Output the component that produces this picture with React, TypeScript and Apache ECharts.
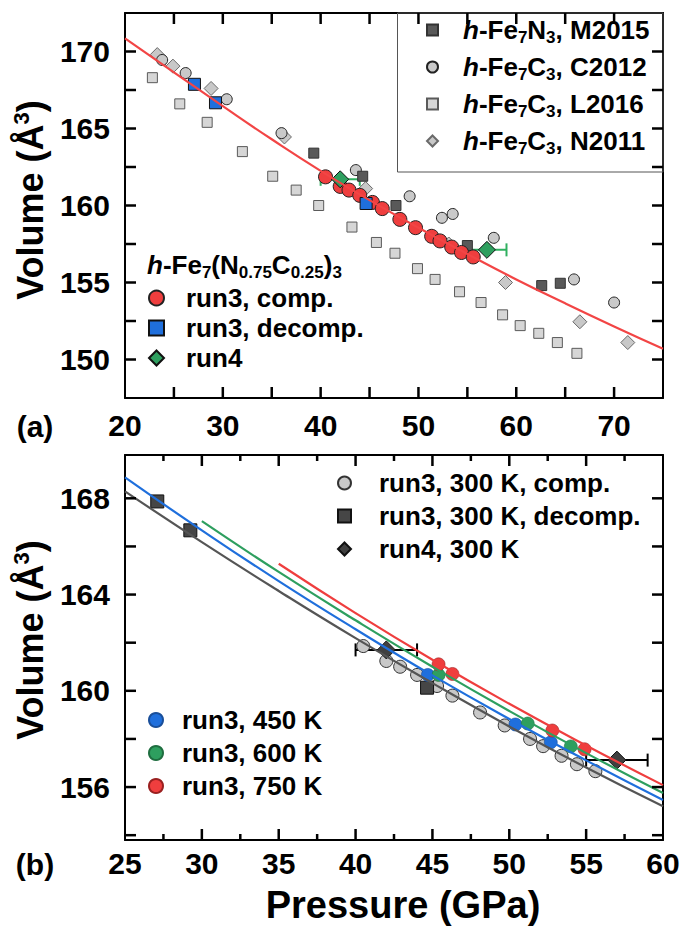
import React, { useEffect, useRef } from 'react';
import * as echarts from 'echarts';

const FONT = '"Liberation Sans", Arial, Helvetica, sans-serif';

// ---------------- Panel (a) data: [pressure (GPa), volume (Å^3)] ----------------
const aXRange = [20, 75];
const aYRange = [147.5, 172.5];
const aXTicks = [25, 30, 35, 40, 45, 50, 55, 60, 65, 70];
const aYTicks = [150, 152.5, 155, 157.5, 160, 162.5, 165, 167.5, 170];
const m2015 = [[39.3, 163.4], [44.3, 161.9], [47.7, 160.0], [55.0, 157.4], [62.6, 154.8], [64.5, 154.95]];
const c2012 = [[23.8, 169.45], [26.2, 168.6], [30.4, 166.9], [36.0, 164.7], [43.6, 162.3], [49.1, 160.6], [52.4, 159.2], [53.5, 159.45], [57.7, 157.9], [65.9, 155.2], [70.0, 153.7]];
const l2016 = [[22.8, 168.3], [25.6, 166.6], [28.4, 165.4], [32.0, 163.5], [35.1, 161.9], [37.5, 161.0], [39.8, 160.0], [43.2, 158.6], [45.7, 157.6], [47.6, 156.9], [49.9, 155.9], [51.7, 155.2], [54.2, 154.4], [56.4, 153.7], [58.6, 152.9], [60.4, 152.2], [62.3, 151.7], [64.2, 151.1], [66.2, 150.4]];
const n2011 = [[23.3, 169.8], [24.9, 169.05], [28.8, 167.6], [36.3, 164.45], [44.6, 161.1], [53.1, 157.5], [58.9, 155.0], [66.5, 152.45], [71.4, 151.1]];
const fitA = [[20, 170.85], [25, 168.65], [30, 166.45], [35, 164.3], [40, 162.25], [45, 160.35], [50, 158.55], [55, 156.85], [60, 155.2], [65, 153.65], [70, 152.15], [75, 150.7]];

// run3 / run4 at 300 K (shared by both panels)
const run3Comp = [[40.5, 161.86], [42.0, 161.24], [42.9, 161.0], [44.0, 160.66], [45.3, 160.2], [46.3, 159.8], [48.1, 159.1], [49.7, 158.56], [51.35, 158.0], [52.2, 157.7], [53.4, 157.3], [54.4, 156.95], [55.6, 156.66]];
const run3Decomp = [[27.1, 167.87], [29.25, 166.67], [44.65, 160.13]];
const run4 = [[42.0, 161.7], [57.0, 157.12]];
const run4PErr = [2.0, 2.0];

// ---------------- Panel (b) data ----------------
const bXRange = [25, 60];
const bYRange = [153.8, 169.8];
const bXTicks = [30, 35, 40, 45, 50, 55];
const bXMinorTicks = [27.5, 32.5, 37.5, 42.5, 47.5, 52.5, 57.5];
const bYTicks = [154, 156, 158, 160, 162, 164, 166, 168];
const run3T450 = [[44.7, 160.66], [50.4, 158.6], [52.7, 157.86]];
const run3T600 = [[45.4, 160.66], [51.2, 158.64], [54.0, 157.69]];
const run3T750 = [[45.4, 161.1], [46.3, 160.7], [52.8, 158.35], [54.9, 157.57]];
const fit300 = [[25, 168.29], [30, 166.18], [35, 164.15], [40, 162.19], [45, 160.32], [50, 158.52], [55, 156.81], [60, 155.2]];
const fit450 = [[25, 168.87], [30, 166.67], [35, 164.56], [40, 162.56], [45, 160.64], [50, 158.83], [55, 157.11], [60, 155.46]];
const fit600 = [[30, 167.05], [35, 164.94], [40, 162.93], [45, 161.0], [50, 159.16], [55, 157.41], [60, 155.75]];
const fit750 = [[35, 165.28], [40, 163.23], [45, 161.29], [50, 159.46], [55, 157.73], [60, 156.08]];

const RED = '#ef3e3e';
const BLUE = '#1f6fdc';
const GREEN = '#2e9f5f';
const GRAY_LINE = '#555555';

const GRID_A = { left: 125, top: 13, width: 538, height: 385 };
const GRID_B = { left: 125, top: 455, width: 538, height: 385 };

const baseText = { fontFamily: FONT, fontWeight: 'bold' as const, color: '#000' };

const legendRich = (fs: number, lh: number, sp: number) => ({
  n: { ...baseText, fontSize: fs, lineHeight: lh },
  i: { ...baseText, fontSize: fs, lineHeight: lh, fontStyle: 'italic' as const },
  s: { ...baseText, fontSize: Math.round(fs * 0.66), lineHeight: 12, verticalAlign: 'bottom' as const },
  sp: { width: sp, fontSize: fs, lineHeight: lh },
});

const legendTextA1: Record<string, string> = {
  M2015: '{sp| }{i|h}{n|-Fe}{s|7}{n|N}{s|3}{n|, M2015}',
  C2012: '{sp| }{i|h}{n|-Fe}{s|7}{n|C}{s|3}{n|, C2012}',
  L2016: '{sp| }{i|h}{n|-Fe}{s|7}{n|C}{s|3}{n|, L2016}',
  N2011: '{sp| }{i|h}{n|-Fe}{s|7}{n|C}{s|3}{n|, N2011}',
};

function axisLine() {
  return { show: true, onZero: false, lineStyle: { color: '#000', width: 2 } };
}
const noTick = { show: false };
const labelStyle = { ...baseText, fontSize: 30 };

function errRender(color: string) {
  return (params: any, api: any) => {
    const p = api.value(0);
    const v = api.value(1);
    const e = api.value(2);
    const a = api.coord([p - e, v]);
    const b = api.coord([p + e, v]);
    const cap = 6.5;
    const st = { stroke: color, lineWidth: 2 };
    return {
      type: 'group',
      children: [
        { type: 'line', shape: { x1: a[0], y1: a[1], x2: b[0], y2: b[1] }, style: st },
        { type: 'line', shape: { x1: a[0], y1: a[1] - cap, x2: a[0], y2: a[1] + cap }, style: st },
        { type: 'line', shape: { x1: b[0], y1: b[1] - cap, x2: b[0], y2: b[1] + cap }, style: st },
      ],
    };
  };
}

function scatter(name: string, data: number[][], xi: number, symbol: string, size: number, fill: string, border: string, bw = 1) {
  return {
    type: 'scatter', name, data, xAxisIndex: xi, yAxisIndex: xi, symbol, symbolSize: size,
    itemStyle: { color: fill, borderColor: border, borderWidth: bw, opacity: 1 },
    emphasis: { disabled: true },
  };
}
function fitLine(name: string, data: number[][], xi: number, color: string) {
  return {
    type: 'line', name, data, xAxisIndex: xi, yAxisIndex: xi, showSymbol: false, symbol: 'none', smooth: true,
    lineStyle: { color, width: 2.2 }, emphasis: { disabled: true },
  };
}

const volumeTitle = (y: number) => ({
  type: 'text', z: 10, x: 30, y, rotation: Math.PI / 2,
  style: {
    text: '{n|Volume (Å}{u|3}{n|)}', align: 'center', verticalAlign: 'middle',
    rich: {
      n: { ...baseText, fontSize: 36, lineHeight: 40 },
      u: { ...baseText, fontSize: 22, lineHeight: 22, verticalAlign: 'top' },
    },
  },
});

// inward tick marks on all four sides of a panel (same linear mapping as the grid's value axes)
function tickLines(grid: any, xr: number[], yr: number[], xMajor: number[], xMinor: number[], yMajor: number[]) {
  const out: any[] = [];
  const sx = (x: number) => grid.left + ((x - xr[0]) / (xr[1] - xr[0])) * grid.width;
  const sy = (y: number) => grid.top + grid.height - ((y - yr[0]) / (yr[1] - yr[0])) * grid.height;
  const left = grid.left;
  const right = grid.left + grid.width;
  const top = grid.top;
  const bottom = grid.top + grid.height;
  const len = 11;
  const minorLen = 6;
  const mk = (x1: number, y1: number, x2: number, y2: number) => ({
    type: 'line', z: 30, shape: { x1, y1, x2, y2 }, style: { stroke: '#000', lineWidth: 2.5 },
  });
  const addX = (t: number, l: number) => {
    const px = sx(t);
    out.push(mk(px, bottom, px, bottom - l));
    out.push(mk(px, top, px, top + l));
  };
  xMajor.forEach((t) => addX(t, len));
  xMinor.forEach((t) => addX(t, minorLen));
  yMajor.forEach((t) => {
    const py = sy(t);
    out.push(mk(left, py, left + len, py));
    out.push(mk(right, py, right - len, py));
  });
  return out;
}

function buildOption() {
  const graphics: any[] = [
    { type: 'rect', z: 10, shape: { x: 397.5, y: 13, width: 265.5, height: 159 }, style: { fill: 'none', stroke: '#555', lineWidth: 1 } },
    {
      type: 'text', z: 10, x: 147, y: 265,
      style: {
        text: '{i|h}{n|-Fe}{s|7}{n|(N}{s|0.75}{n|C}{s|0.25}{n|)}{s|3}',
        rich: legendRich(26, 32, 0), align: 'left', verticalAlign: 'middle',
      },
    },
    { type: 'text', z: 10, x: 35, y: 426, style: { text: '(a)', ...baseText, fill: '#000', fontSize: 30, align: 'center', verticalAlign: 'middle' } },
    { type: 'text', z: 10, x: 35, y: 864, style: { text: '(b)', ...baseText, fill: '#000', fontSize: 30, align: 'center', verticalAlign: 'middle' } },
    volumeTitle(200),
    volumeTitle(640),
    { type: 'text', z: 10, x: 403, y: 905, style: { text: 'Pressure (GPa)', ...baseText, fill: '#000', fontSize: 38, align: 'center', verticalAlign: 'middle' } },
    ...tickLines(GRID_A, aXRange, aYRange, aXTicks, [], aYTicks),
    ...tickLines(GRID_B, bXRange, bYRange, bXTicks, bXMinorTicks, bYTicks),
  ];
  const option: any = {
    animation: false,
    grid: [GRID_A, GRID_B],
    xAxis: [
      {
        gridIndex: 0, type: 'value', position: 'bottom', min: aXRange[0], max: aXRange[1], interval: 5,
        axisLine: axisLine(), axisTick: noTick, splitLine: { show: false },
        axisLabel: { ...labelStyle, margin: 12, formatter: (v: number) => (v % 10 === 0 ? String(v) : '') },
      },
      {
        gridIndex: 0, type: 'value', position: 'top', min: aXRange[0], max: aXRange[1], interval: 5,
        axisLine: axisLine(), axisTick: noTick, splitLine: { show: false }, axisLabel: { show: false },
      },
      {
        gridIndex: 1, type: 'value', position: 'bottom', min: bXRange[0], max: bXRange[1], interval: 5,
        axisLine: axisLine(), axisTick: noTick, splitLine: { show: false },
        axisLabel: { ...labelStyle, margin: 8 },
      },
      {
        gridIndex: 1, type: 'value', position: 'top', min: bXRange[0], max: bXRange[1], interval: 5,
        axisLine: axisLine(), axisTick: noTick, splitLine: { show: false }, axisLabel: { show: false },
      },
    ],
    yAxis: [
      {
        gridIndex: 0, type: 'value', position: 'left', min: aYRange[0], max: aYRange[1], interval: 2.5,
        axisLine: axisLine(), axisTick: noTick, splitLine: { show: false },
        axisLabel: { ...labelStyle, margin: 15, formatter: (v: number) => (Math.abs(v % 5) < 1e-9 ? String(v) : '') },
      },
      {
        gridIndex: 0, type: 'value', position: 'right', min: aYRange[0], max: aYRange[1], interval: 2.5,
        axisLine: axisLine(), axisTick: noTick, splitLine: { show: false }, axisLabel: { show: false },
      },
      {
        gridIndex: 1, type: 'value', position: 'left', min: bYRange[0], max: bYRange[1], splitNumber: 8,
        axisLine: axisLine(), axisTick: noTick, splitLine: { show: false },
        axisLabel: { ...labelStyle, margin: 15, showMinLabel: false, showMaxLabel: false, formatter: (v: number) => (Math.abs(v % 4) < 1e-6 ? String(Math.round(v)) : '') },
      },
      {
        gridIndex: 1, type: 'value', position: 'right', min: bYRange[0], max: bYRange[1], splitNumber: 8,
        axisLine: axisLine(), axisTick: noTick, splitLine: { show: false }, axisLabel: { show: false },
      },
    ],
    legend: [
      {
        orient: 'vertical', left: 426, top: 17, itemWidth: 11, itemHeight: 11, itemGap: 8, padding: 0,
        selectedMode: false, data: ['M2015', 'C2012', 'L2016', 'N2011'],
        formatter: (name: string) => legendTextA1[name],
        textStyle: { ...baseText, fontSize: 26, rich: legendRich(26, 32, 20) },
      },
      {
        orient: 'vertical', left: 148, top: 285, itemWidth: 15, itemHeight: 15, itemGap: 4, padding: 0,
        selectedMode: false, data: ['run3, comp.', 'run3, decomp.', 'run4'],
        formatter: (name: string) => '{sp| }{n|' + name + '}',
        textStyle: { ...baseText, fontSize: 26, rich: legendRich(26, 30, 17) },
      },
      {
        orient: 'vertical', left: 337, top: 470, itemWidth: 13, itemHeight: 13, itemGap: 7, padding: 0,
        selectedMode: false, data: ['run3, 300 K, comp.', 'run3, 300 K, decomp.', 'run4, 300 K'],
        formatter: (name: string) => '{sp| }{n|' + name + '}',
        textStyle: { ...baseText, fontSize: 26, rich: legendRich(26, 30, 23) },
      },
      {
        orient: 'vertical', left: 148, top: 707, itemWidth: 14, itemHeight: 14, itemGap: 7, padding: 0,
        selectedMode: false, data: ['run3, 450 K', 'run3, 600 K', 'run3, 750 K'],
        formatter: (name: string) => '{sp| }{n|' + name + '}',
        textStyle: { ...baseText, fontSize: 26, rich: legendRich(26, 30, 14) },
      },
    ],
    series: [
      // panel (a)
      scatter('L2016', l2016, 0, 'rect', 10, '#d6d6d6', '#5a5a5a'),
      scatter('N2011', n2011, 0, 'diamond', 14, '#c8c8c8', '#6a6a6a'),
      scatter('C2012', c2012, 0, 'circle', 11, '#c9c9c9', '#222'),
      scatter('M2015', m2015, 0, 'rect', 10, '#595959', '#333'),
      fitLine('fit (a)', fitA, 0, '#f24545'),
      {
        type: 'custom', name: 'run4 err (a)', xAxisIndex: 0, yAxisIndex: 0,
        data: run4.map((d, i) => [d[0], d[1], run4PErr[i]]),
        renderItem: errRender('#30b060'),
      },
      scatter('run3, comp.', run3Comp, 0, 'circle', 14, RED, '#222'),
      scatter('run3, decomp.', run3Decomp, 0, 'rect', 12, BLUE, '#111'),
      scatter('run4', run4, 0, 'diamond', 17, GREEN, '#111'),
      // panel (b)
      fitLine('fit 300 K', fit300, 2, GRAY_LINE),
      fitLine('fit 450 K', fit450, 2, BLUE),
      fitLine('fit 600 K', fit600, 2, GREEN),
      fitLine('fit 750 K', fit750, 2, RED),
      scatter('run3, 300 K, comp.', run3Comp, 2, 'circle', 13, '#c8c8c8', '#333'),
      scatter('run3, 300 K, decomp.', run3Decomp, 2, 'rect', 13, '#464646', '#111'),
      {
        type: 'custom', name: 'run4 err (b)', xAxisIndex: 2, yAxisIndex: 2,
        data: run4.map((d, i) => [d[0], d[1], run4PErr[i]]),
        renderItem: errRender('#000'),
      },
      scatter('run4, 300 K', run4, 2, 'diamond', 18, '#404040', '#111'),
      scatter('run3, 450 K', run3T450, 2, 'circle', 13, BLUE, '#1a4f9a', 0.6),
      scatter('run3, 600 K', run3T600, 2, 'circle', 13, GREEN, '#1f6e40', 0.6),
      scatter('run3, 750 K', run3T750, 2, 'circle', 13, RED, '#9a2020', 0.6),
    ],
    graphic: { elements: graphics },
  };
  return option;
}

export default function App() {
  const ref = useRef<HTMLDivElement>(null);
  useEffect(() => {
    document.body.style.margin = '0';
    const chart = echarts.init(ref.current as HTMLDivElement, null, { renderer: 'svg' });
    chart.setOption(buildOption());
    return () => chart.dispose();
  }, []);
  return <div ref={ref} style={{ width: 684, height: 929 }} />;
}
